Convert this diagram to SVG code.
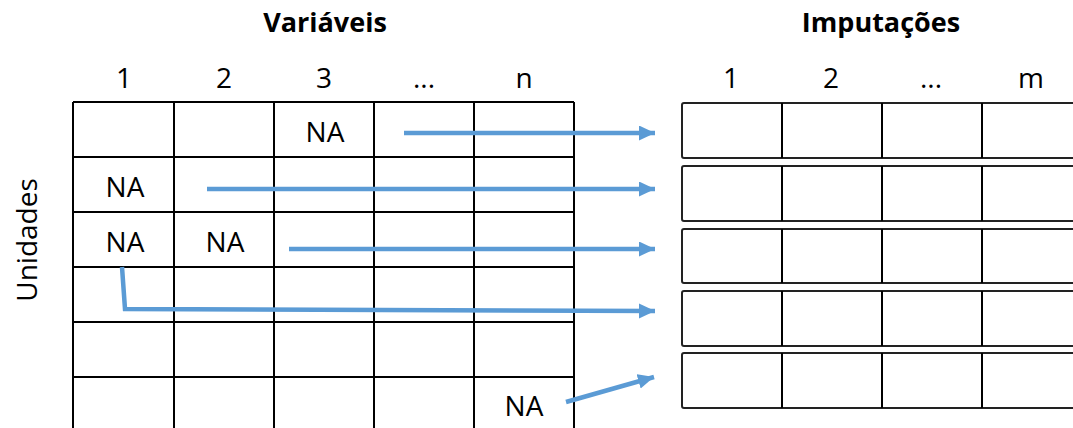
<svg xmlns="http://www.w3.org/2000/svg" width="1073" height="428" viewBox="0 0 1073 428">
<style>
text{font-family:"Open Sans","Liberation Sans",sans-serif;fill:#000;text-anchor:middle}
.title{font-size:27px;font-weight:bold}
.hdr{font-size:28px}
.na{font-size:28px}
.grid{stroke:#000;stroke-width:2;fill:none}
.box{stroke:#222;stroke-width:2;fill:#fff}
.arrow{stroke:#5B9BD5;stroke-width:4.5;fill:none;marker-end:url(#ah)}
</style>
<defs>
<marker id="ah" markerUnits="userSpaceOnUse" markerWidth="17" markerHeight="16" refX="16" refY="7.5" orient="auto">
<path d="M0,0 L16,7.5 L0,15 z" fill="#5B9BD5"/>
</marker>
</defs>
<rect width="1073" height="428" fill="#fff"/>
<g id="titles">
<text class="title" x="325" y="32">Variáveis</text>
<text class="title" x="881" y="32">Imputações</text>
<text class="hdr" x="30" y="240" transform="rotate(-90 30 240)" dominant-baseline="middle">Unidades</text>
</g>
<g id="var-headers">
<text class="hdr" x="124" y="88">1</text>
<text class="hdr" x="224" y="88">2</text>
<text class="hdr" x="324" y="88">3</text>
<text class="hdr" x="424" y="88">...</text>
<text class="hdr" x="524" y="88">n</text>
</g>
<g id="imp-headers">
<text class="hdr" x="731" y="88">1</text>
<text class="hdr" x="831" y="88">2</text>
<text class="hdr" x="931" y="88">...</text>
<text class="hdr" x="1031" y="88">m</text>
</g>
<g id="data-grid" class="grid">
<path d="M73,102V432 M174,102V432 M274,102V432 M374,102V432 M474,102V432 M574,102V432"/>
<path d="M73,102H574 M73,157H574 M73,212H574 M73,267H574 M73,322H574 M73,377H574"/>
</g>
<g id="na-cells">
<text class="na" x="325" y="142">NA</text>
<text class="na" x="125" y="197">NA</text>
<text class="na" x="125" y="252">NA</text>
<text class="na" x="225" y="252">NA</text>
<text class="na" x="524" y="416">NA</text>
</g>
<g id="imp-row1">
<rect class="box" x="682" y="103" width="410" height="55" rx="2"/>
<path class="grid" d="M782,103V158 M882,103V158 M982,103V158"/>
</g>
<g id="imp-row2">
<rect class="box" x="682" y="166" width="410" height="55" rx="2"/>
<path class="grid" d="M782,166V221 M882,166V221 M982,166V221"/>
</g>
<g id="imp-row3">
<rect class="box" x="682" y="229" width="410" height="54" rx="2"/>
<path class="grid" d="M782,229V283 M882,229V283 M982,229V283"/>
</g>
<g id="imp-row4">
<rect class="box" x="682" y="291" width="410" height="55" rx="2"/>
<path class="grid" d="M782,291V346 M882,291V346 M982,291V346"/>
</g>
<g id="imp-row5">
<rect class="box" x="682" y="353" width="410" height="55" rx="2"/>
<path class="grid" d="M782,353V408 M882,353V408 M982,353V408"/>
</g>
<g id="connectors">
<path class="arrow" d="M404,133H655"/>
<path class="arrow" d="M207,189H655"/>
<path class="arrow" d="M289,249H655"/>
<path class="arrow" d="M122,267L125,309L655,311"/>
<path class="arrow" d="M566,402L654,377"/>
</g>
</svg>
